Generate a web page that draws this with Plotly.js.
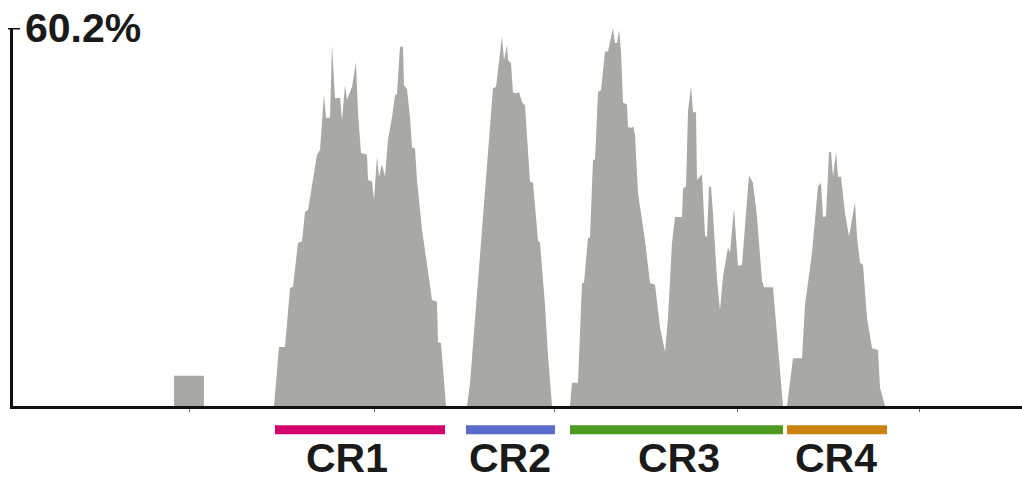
<!DOCTYPE html>
<html>
<head>
<meta charset="utf-8">
<script src="https://cdn.plot.ly/plotly-3.0.1.min.js"></script>
<style>html,body{margin:0;padding:0;background:#fff;}#chart{width:1022px;height:482px;}</style>
</head>
<body>
<div id="chart"></div>
<script>
// Coverage profile (position, percent)
const position = [
  174,174,204,204,
  274,278,279,285,290,293,298,302,305,308,313,316,317,320,324,326,330,332,335,340,342,345,347,352,356,358,361,367,368,372,374,377,379,382,385,388,392,395,397,400,403,404,407,410,412,415,417,422,425,432,437,438,441,446,
  467,470,480,486,493,496,499,502,504,507,508,511,513,517,519,522,525,530,533,538,540,545,548,552,
  570,572,578,582,584,588,590,593,595,598,601,605,608,613,615,617,619,621,623,627,628,632,633,635,638,645,650,655,660,665,668,672,675,682,683,686,688,691,693,696,697,700,702,705,707,709,711,713,717,720,723,728,730,734,738,742,745,749,753,757,762,764,773,777,781,783,
  787,793,802,805,812,815,818,821,823,826,829,831,833,836,838,841,845,849,852,855,857,860,863,867,872,878,880,885
];
const coverage = [
  0,4.8,4.8,0,
  0,8.0,9.4,9.4,18.8,19.0,26.0,26.2,30.9,31.2,35.7,39.0,40.0,40.8,49.6,45.9,45.9,57.5,49.0,49.1,45.5,51.1,48.8,50.8,54.8,46.7,40.3,40.0,36.0,35.8,32.8,39.7,36.5,38.5,36.5,42.4,46.0,49.5,49.7,57.2,57.2,51.1,50.5,45.9,41.2,41.0,36.0,28.0,24.8,16.9,16.6,10.2,10.0,0,
  0,3.6,24,36,50.6,50.8,55.1,58.8,55.1,57.5,55.1,54.6,49.9,49.8,50.0,48.4,47.9,35.7,35.6,26.3,26.0,16.1,8.0,0,
  0,3.7,3.7,19.6,19.6,26.8,26.8,39.2,39.2,50.0,50.3,56.4,56.5,60.2,57.8,57.8,59.9,56.4,48.3,48.0,44.4,44.3,44.6,43.2,33.9,26.4,19.6,19.3,12.6,8.6,14.0,26.0,30.1,30.1,34.6,35.0,47.0,50.9,46.8,46.8,36.0,36.5,36.9,27.1,26.9,34.9,34.9,30.7,20.1,15.3,20.6,25.3,24.4,31.5,22.3,22.5,29.1,36.8,35.5,30.1,20.0,18.9,18.9,11.7,4.0,0,
  0,7.6,7.6,16.1,24.4,30.1,35.0,35.5,30.1,30.2,40.4,40.5,36.5,40.5,36.5,36.5,30.7,27.0,29.6,32.5,26.9,22.8,22.5,14.0,9.2,8.9,3.0,0
];
const yMax = 60.2;
const xTickVals = [189, 374, 554, 737, 919];

// Regions
const regionNames = ['CR1', 'CR2', 'CR3', 'CR4'];
const regionStart = [275, 466, 570, 787];
const regionEnd   = [445, 555, 783, 887];
const regionLabelPos = [347, 510, 679, 836];
const regionColors = ['#D5006D', '#5B6BCB', '#4E991F', '#CC840F'];

const FONT = 'Liberation Sans, Arial, Helvetica, sans-serif';

const traces = [{
  type: 'scatter',
  mode: 'lines',
  x: position,
  y: coverage,
  fill: 'tozeroy',
  fillcolor: '#A8A8A5',
  line: {width: 0, color: '#A8A8A5'},
  hoverinfo: 'skip',
  showlegend: false
}];

const shapes = [];
const annotations = [];
regionNames.forEach((name, i) => {
  shapes.push({
    type: 'line', xref: 'x', yref: 'paper',
    x0: regionStart[i], x1: regionEnd[i], y0: -0.063, y1: -0.063,
    line: {color: regionColors[i], width: 9}
  });
  annotations.push({
    xref: 'x', yref: 'paper',
    x: regionLabelPos[i], y: -0.137,
    text: name, showarrow: false,
    xanchor: 'center', yanchor: 'middle',
    font: {family: FONT, size: 41, color: '#1a1a1a', weight: 700}
  });
});
// y-axis maximum label, right of the axis
annotations.push({
  xref: 'paper', yref: 'y',
  x: 0, y: yMax, xshift: 10,
  text: yMax + '%', showarrow: false,
  xanchor: 'left', yanchor: 'middle',
  font: {family: FONT, size: 41, color: '#1a1a1a', weight: 700}
});
// T-cap on top of y axis
shapes.push({
  type: 'line', xref: 'paper', yref: 'y',
  x0: -0.005, x1: 0.007, y0: yMax, y1: yMax,
  line: {color: '#111', width: 3}
});

const layout = {
  width: 1022, height: 482,
  margin: {l: 13, r: 0, t: 28, b: 76, pad: 0},
  paper_bgcolor: '#fff', plot_bgcolor: '#fff',
  showlegend: false,
  xaxis: {
    range: [13, 1022],
    showgrid: false, zeroline: false,
    showline: true, linecolor: '#111', linewidth: 3,
    ticks: 'outside', ticklen: 3, tickwidth: 1, tickcolor: '#666',
    tickvals: xTickVals, showticklabels: false,
    fixedrange: true
  },
  yaxis: {
    range: [0, yMax],
    showgrid: false, zeroline: false,
    showline: true, linecolor: '#111', linewidth: 3,
    ticks: '', showticklabels: false,
    fixedrange: true
  },
  shapes: shapes,
  annotations: annotations
};

Plotly.newPlot('chart', traces, layout, {displayModeBar: false, staticPlot: true});
</script>
</body>
</html>
